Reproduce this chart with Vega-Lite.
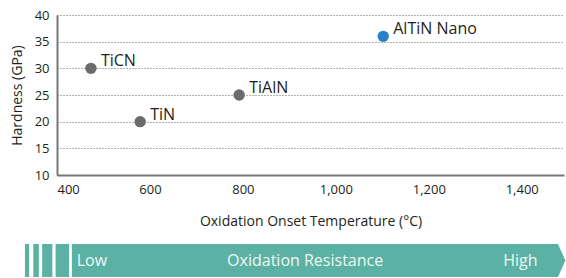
{
  "$schema": "https://vega.github.io/schema/vega-lite/v6.json",
  "padding": {"left": 10, "top": 9, "right": 0, "bottom": 0},
  "spacing": 16,
  "config": {
    "view": {"stroke": null},
    "font": "Open Sans",
    "axis": {
      "domainColor": "#77787b",
      "domainWidth": 2,
      "ticks": false,
      "labelColor": "#231f20",
      "labelFontSize": 13,
      "labelPadding": 8,
      "titleColor": "#231f20",
      "titleFontSize": 14,
      "titleFontWeight": "normal"
    }
  },
  "vconcat": [
    {
      "width": 507,
      "height": 160,
      "data": {
        "values": [
          {"coating": "TiCN", "temp": 473, "hardness": 30, "kind": "conventional"},
          {"coating": "TiN", "temp": 579, "hardness": 20, "kind": "conventional"},
          {"coating": "TiAlN", "temp": 792, "hardness": 25, "kind": "conventional"},
          {"coating": "AlTiN Nano", "temp": 1102, "hardness": 36, "kind": "nano"}
        ]
      },
      "encoding": {
        "x": {
          "field": "temp",
          "type": "quantitative",
          "scale": {"domain": [400, 1491], "nice": false, "zero": false},
          "axis": {
            "title": "Oxidation Onset Temperature (°C)",
            "values": [400, 600, 800, 1000, 1200, 1400],
            "grid": false,
            "labelFlush": true,
            "titlePadding": 18
          }
        },
        "y": {
          "field": "hardness",
          "type": "quantitative",
          "scale": {"domain": [10, 40], "nice": false, "zero": false},
          "axis": {
            "title": "Hardness (GPa)",
            "values": [10, 15, 20, 25, 30, 35, 40],
            "grid": true,
            "gridDash": [1, 2],
            "gridColor": "#5f6675",
            "gridWidth": 1.2,
            "titlePadding": 10
          }
        }
      },
      "layer": [
        {
          "mark": {"type": "point", "filled": true, "size": 130, "opacity": 1},
          "encoding": {
            "color": {
              "field": "kind",
              "type": "nominal",
              "scale": {"domain": ["conventional", "nano"], "range": ["#6b6b6e", "#2a80c6"]},
              "legend": null
            }
          }
        },
        {
          "mark": {"type": "text", "align": "left", "baseline": "alphabetic", "dx": 10, "dy": -2, "fontSize": 16, "color": "#231f20"},
          "encoding": {"text": {"field": "coating"}}
        }
      ]
    },
    {
      "width": 507,
      "height": 33,
      "layer": [
        {
          "data": {
            "values": [
              {"start": 331, "end": 340},
              {"start": 349, "end": 361},
              {"start": 368, "end": 390},
              {"start": 397, "end": 426}
            ]
          },
          "mark": {"type": "rect", "color": "#5bb2a4"},
          "encoding": {
            "x": {"field": "start", "type": "quantitative", "scale": {"domain": [400, 1491], "nice": false, "zero": false}, "axis": null},
            "x2": {"field": "end"},
            "y": {"datum": 0, "type": "quantitative", "scale": {"domain": [0, 1]}, "axis": null},
            "y2": {"datum": 1}
          }
        },
        {
          "data": {
            "values": [
              {"t": 432, "lo": 0, "hi": 1},
              {"t": 1478, "lo": 0, "hi": 1},
              {"t": 1494, "lo": 0.5, "hi": 0.5}
            ]
          },
          "mark": {"type": "area", "color": "#5bb2a4", "opacity": 1},
          "encoding": {
            "x": {"field": "t", "type": "quantitative"},
            "y": {"field": "lo", "type": "quantitative"},
            "y2": {"field": "hi"}
          }
        },
        {
          "data": {
            "values": [
              {"label": "Low", "pos": 475},
              {"label": "Oxidation Resistance", "pos": 934},
              {"label": "High", "pos": 1397}
            ]
          },
          "mark": {"type": "text", "color": "#eef7f5", "fontSize": 16, "baseline": "middle"},
          "encoding": {
            "x": {"field": "pos", "type": "quantitative"},
            "y": {"datum": 0.5, "type": "quantitative"},
            "text": {"field": "label"}
          }
        }
      ]
    }
  ]
}
